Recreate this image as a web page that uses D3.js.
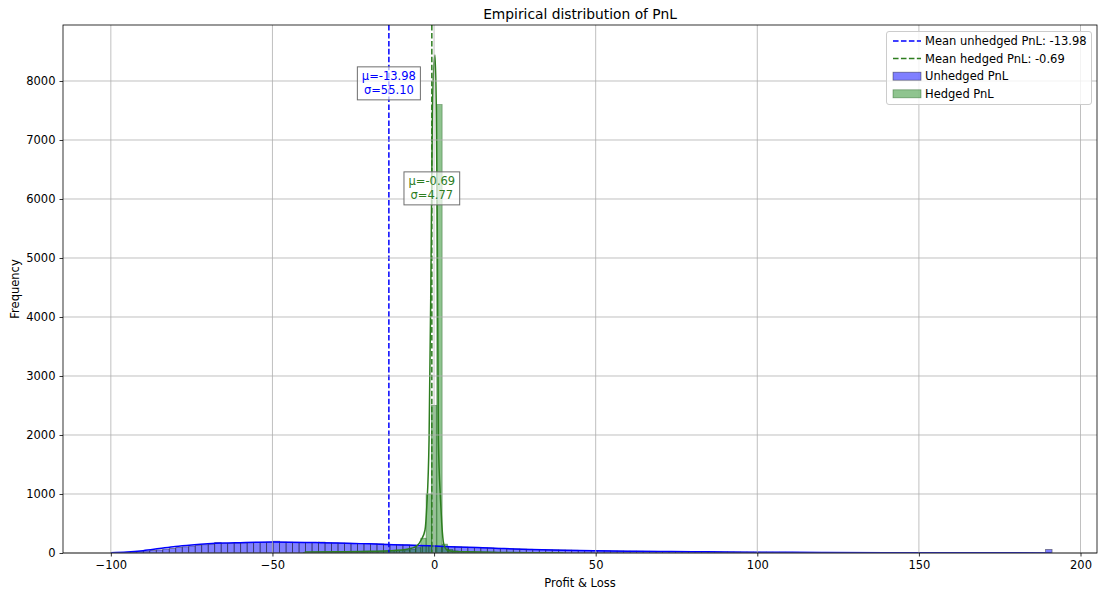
<!DOCTYPE html>
<html>
<head>
<meta charset="utf-8">
<script src="https://cdn.jsdelivr.net/npm/d3@7"></script>
<style>
  html, body { margin: 0; padding: 0; background: #fff; }
  svg text { font-family: "DejaVu Sans", sans-serif; }
</style>
</head>
<body>
<svg id="chart" width="1100" height="594"></svg>
<script>
// ---- data ----
// Unhedged PnL histogram: equal-width bins from unhedgedLo to unhedgedHi
const unhedgedLo = -100;
const unhedgedHi = 191.2;
const unhedgedCounts = [
  2, 6, 10, 16, 24, 33, 42, 52, 66, 78,
  95, 105, 118, 128, 140, 150, 178, 160, 166, 170,
  172, 175, 178, 180, 183, 200, 185, 183, 181, 180,
  178, 176, 185, 172, 170, 168, 166, 164, 162, 160,
  158, 155, 150, 146, 142, 137, 133, 128, 124, 120,
  116, 112, 108, 104, 100, 96, 92, 88, 84, 80,
  76, 72, 69, 66, 63, 60, 57, 54, 52, 50,
  48, 46, 44, 42, 40, 38, 37, 35, 34, 32,
  31, 30, 29, 28, 27, 26, 25, 24, 23, 22,
  21, 20, 19, 18, 18, 17, 16, 15, 15, 14,
  14, 13, 12, 12, 11, 11, 10, 10, 9, 9,
  9, 8, 8, 8, 7, 7, 7, 6, 6, 6,
  6, 5, 5, 5, 5, 4, 4, 4, 4, 4,
  3, 3, 3, 3, 3, 3, 3, 2, 2, 2,
  2, 2, 2, 2, 60
];
// Hedged PnL histogram: bins of hedgedWidth starting at hedgedLo
const hedgedLo = -40.41;
const hedgedWidth = 1.65;
const hedgedCounts = [
  8, 6, 8, 9, 10, 10, 12, 12, 14, 15,
  16, 18, 20, 22, 25, 28, 30, 35, 40, 48,
  60, 90, 250, 1000, 2500, 7600, 150, 60, 35, 25,
  20, 18, 15, 13, 12, 10, 9, 8, 7, 6,
  5, 4, 3
];
// Kernel density curves, scaled to counts: [PnL, count]
const unhedgedKde = [
  [-100, 3], [-95, 15], [-90, 40], [-85, 75], [-80, 110], [-75, 135], [-70, 155],
  [-65, 168], [-60, 175], [-55, 182], [-50, 186], [-45, 184], [-40, 180],
  [-35, 175], [-30, 170], [-25, 162], [-20, 155], [-15, 146], [-10, 137],
  [-5, 128], [0, 118], [5, 108], [10, 98], [15, 88], [20, 78], [25, 68],
  [30, 60], [40, 47], [50, 38], [60, 31], [70, 26], [80, 21], [90, 17],
  [100, 14], [120, 9], [140, 6], [160, 4], [180, 3], [191, 2]
];
const hedgedKde = [
  [-40, 15], [-30, 20], [-20, 28], [-10, 50], [-7, 80], [-5.3, 120], [-4, 220],
  [-2.8, 390], [-2.26, 785], [-1.55, 1915], [-1, 4500], [-0.5, 7500], [0, 8300],
  [0.3, 8440], [0.7, 7500], [1, 5500], [1.34, 1915], [2, 900], [2.37, 508],
  [3, 150], [4, 50], [6, 25], [10, 20], [20, 10], [30, 5], [40, 2]
];
const meanUnhedged = -13.98, sdUnhedged = 55.10;
const meanHedged = -0.69, sdHedged = 4.77;
const xTicks = [-100, -50, 0, 50, 100, 150, 200];
const yTicks = [0, 1000, 2000, 3000, 4000, 5000, 6000, 7000, 8000];

// ---- layout ----
const svg = d3.select("#chart");
const L = 63, R = 1097, T = 25, B = 553;
const x = d3.scaleLinear().domain([-114.8, 205.1]).range([L, R]);
const y = d3.scaleLinear().domain([0, 8949]).range([B, T]);

const blue = "#0000ff";
const greenFill = "#1f8a1f";
const green = "#2d7d1f";
const fs = 11.5;

const minusFmt = v => (v < 0 ? "\u2212" + Math.abs(v) : String(v));

svg.append("defs").append("clipPath").attr("id", "plot")
  .append("rect").attr("x", L).attr("y", T).attr("width", R - L).attr("height", B - T);

const plot = svg.append("g").attr("clip-path", "url(#plot)");

// bars
const uW = (unhedgedHi - unhedgedLo) / unhedgedCounts.length;
const uBins = unhedgedCounts.map((c, i) => ({ x0: unhedgedLo + i * uW, x1: unhedgedLo + (i + 1) * uW, c }));
const hBins = hedgedCounts.map((c, i) => ({ x0: hedgedLo + i * hedgedWidth, x1: hedgedLo + (i + 1) * hedgedWidth, c }));

function drawBars(bins, fill, stroke) {
  plot.append("g").selectAll("rect").data(bins).join("rect")
    .attr("x", d => x(d.x0))
    .attr("width", d => x(d.x1) - x(d.x0))
    .attr("y", d => y(d.c))
    .attr("height", d => y(0) - y(d.c))
    .attr("fill", fill).attr("fill-opacity", 0.5)
    .attr("stroke", stroke).attr("stroke-opacity", 0.45).attr("stroke-width", 0.8);
}
drawBars(uBins, blue, "#000");
drawBars(hBins, greenFill, "#0b4d0b");

// grid
const grid = svg.append("g").attr("stroke", "#b0b0b0").attr("stroke-width", 0.8);
grid.selectAll(".gx").data(xTicks).join("line")
  .attr("x1", d => x(d)).attr("x2", d => x(d)).attr("y1", T).attr("y2", B);
grid.selectAll(".gy").data(yTicks).join("line")
  .attr("x1", L).attr("x2", R).attr("y1", d => y(d)).attr("y2", d => y(d));

// density curves
const line = d3.line().x(d => x(d[0])).y(d => y(d[1])).curve(d3.curveMonotoneX);
plot.append("path").datum(unhedgedKde).attr("d", line)
  .attr("fill", "none").attr("stroke", blue).attr("stroke-width", 1.5);
plot.append("path").datum(hedgedKde).attr("d", line)
  .attr("fill", "none").attr("stroke", green).attr("stroke-width", 1.5);

// mean lines
plot.append("line").attr("x1", x(meanUnhedged)).attr("x2", x(meanUnhedged))
  .attr("y1", T).attr("y2", B).attr("stroke", blue).attr("stroke-width", 1.5)
  .attr("stroke-dasharray", "5.55,2.4");
plot.append("line").attr("x1", x(meanHedged)).attr("x2", x(meanHedged))
  .attr("y1", T).attr("y2", B).attr("stroke", green).attr("stroke-width", 1.5)
  .attr("stroke-dasharray", "5.55,2.4");

// stat boxes
function statBox(cx, cyVal, lines, color) {
  const g = svg.append("g");
  const cy = y(cyVal);
  const texts = lines.map((t, i) => g.append("text")
    .attr("x", x(cx)).attr("y", cy + (i - 0.5) * 14)
    .attr("text-anchor", "middle").attr("dominant-baseline", "central")
    .attr("font-size", fs).attr("fill", color).text(t));
  let w = 0;
  texts.forEach(t => { w = Math.max(w, t.node().getComputedTextLength()); });
  g.insert("rect", "text")
    .attr("x", x(cx) - w / 2 - 4.5).attr("y", cy - 16.5)
    .attr("width", w + 9).attr("height", 33)
    .attr("fill", "#fff").attr("fill-opacity", 0.7)
    .attr("stroke", "#6e6e6e").attr("stroke-width", 1);
}
statBox(meanUnhedged, 7960, [`\u03bc=${meanUnhedged.toFixed(2)}`, `\u03c3=${sdUnhedged.toFixed(2)}`], blue);
statBox(meanHedged, 6180, [`\u03bc=${meanHedged.toFixed(2)}`, `\u03c3=${sdHedged.toFixed(2)}`], green);

// axes frame
svg.append("rect").attr("x", L).attr("y", T).attr("width", R - L).attr("height", B - T)
  .attr("fill", "none").attr("stroke", "#000").attr("stroke-width", 0.8);

const xAxis = svg.append("g").attr("transform", `translate(0,${B})`)
  .call(d3.axisBottom(x).tickValues(xTicks).tickSize(3.5).tickPadding(4).tickFormat(minusFmt));
const yAxis = svg.append("g").attr("transform", `translate(${L},0)`)
  .call(d3.axisLeft(y).tickValues(yTicks).tickSize(3.5).tickPadding(4).tickFormat(d3.format("d")));
[xAxis, yAxis].forEach(a => {
  a.select(".domain").remove();
  a.selectAll("text").attr("font-size", fs).attr("fill", "#000").attr("font-family", "DejaVu Sans");
  a.selectAll("line").attr("stroke", "#000").attr("stroke-width", 0.8);
});

// titles
svg.append("text").attr("x", (L + R) / 2).attr("y", 19).attr("text-anchor", "middle")
  .attr("font-size", 13.8).text("Empirical distribution of PnL");
svg.append("text").attr("x", (L + R) / 2).attr("y", 587).attr("text-anchor", "middle")
  .attr("font-size", fs).text("Profit & Loss");
svg.append("text").attr("transform", `translate(19,${(T + B) / 2}) rotate(-90)`)
  .attr("text-anchor", "middle").attr("font-size", fs).text("Frequency");

// legend
const legendItems = [
  { label: `Mean unhedged PnL: ${meanUnhedged.toFixed(2)}`, type: "line", color: blue },
  { label: `Mean hedged PnL: ${meanHedged.toFixed(2)}`, type: "line", color: green },
  { label: "Unhedged PnL", type: "patch", color: blue, edge: "#000" },
  { label: "Hedged PnL", type: "patch", color: greenFill, edge: "#0b4d0b" }
];
const lg = svg.append("g");
lg.append("rect").attr("x", 886.5).attr("y", 31.5).attr("width", 205).attr("height", 73)
  .attr("rx", 2.5).attr("fill", "#fff").attr("fill-opacity", 0.8)
  .attr("stroke", "#cccccc").attr("stroke-width", 1);
legendItems.forEach((d, i) => {
  const cy = 41 + i * 17.6;
  if (d.type === "line") {
    lg.append("line").attr("x1", 893).attr("x2", 921).attr("y1", cy).attr("y2", cy)
      .attr("stroke", d.color).attr("stroke-width", 1.5).attr("stroke-dasharray", "5.55,2.4");
  } else {
    lg.append("rect").attr("x", 893).attr("y", cy - 4).attr("width", 28).attr("height", 8)
      .attr("fill", d.color).attr("fill-opacity", 0.5)
      .attr("stroke", d.edge).attr("stroke-opacity", 0.45).attr("stroke-width", 0.8);
  }
  lg.append("text").attr("x", 925).attr("y", cy).attr("dominant-baseline", "central")
    .attr("font-size", fs).text(d.label);
});
</script>
</body>
</html>
